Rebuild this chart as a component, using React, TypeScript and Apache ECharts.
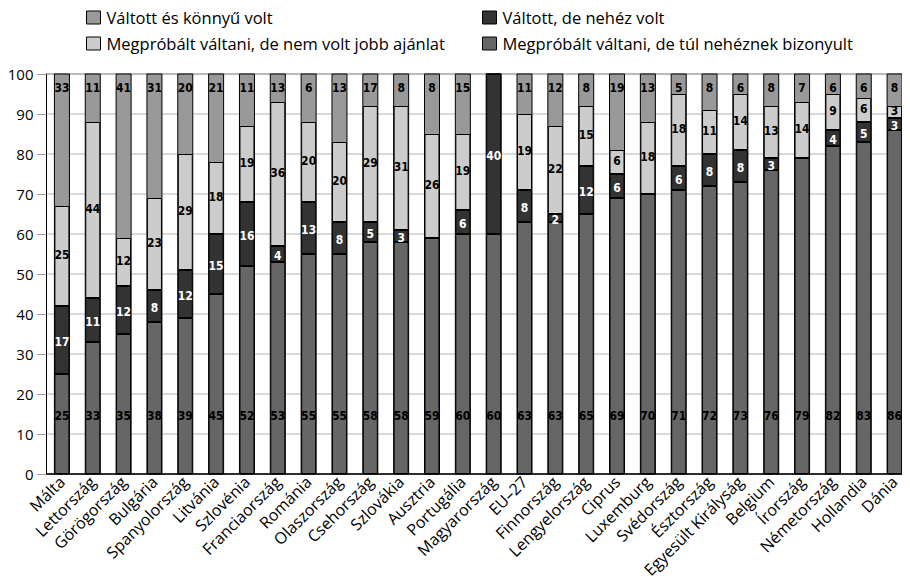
import React, { useEffect, useRef } from "react";
import * as echarts from "echarts";

const categories = [
  "Málta", "Lettország", "Görögország", "Bulgária", "Spanyolország", "Litvánia", "Szlovénia",
  "Franciaország", "Románia", "Olaszország", "Csehország", "Szlovákia", "Ausztria", "Portugália",
  "Magyarország", "EU–27", "Finnország", "Lengyelország", "Ciprus", "Luxemburg", "Svédország",
  "Észtország", "Egyesült Királyság", "Belgium", "Írország", "Németország", "Hollandia", "Dánia",
];

// Megpróbált váltani, de túl nehéznek bizonyult
const tooHard = [25, 33, 35, 38, 39, 45, 52, 53, 55, 55, 58, 58, 59, 60, 60, 63, 63, 65, 69, 70, 71, 72, 73, 76, 79, 82, 83, 86];
// Váltott, de nehéz volt
const switchedHard = [17, 11, 12, 8, 12, 15, 16, 4, 13, 8, 5, 3, 0, 6, 40, 8, 2, 12, 6, 0, 6, 8, 8, 3, 0, 4, 5, 3];
// Megpróbált váltani, de nem volt jobb ajánlat
const noBetterOffer = [25, 44, 12, 23, 29, 18, 19, 36, 20, 20, 29, 31, 26, 19, 0, 19, 22, 15, 6, 18, 18, 11, 14, 13, 14, 9, 6, 3];
// Váltott és könnyű volt
const switchedEasy = [33, 11, 41, 31, 20, 21, 11, 13, 6, 13, 17, 8, 8, 15, 0, 11, 12, 8, 19, 13, 5, 8, 6, 8, 7, 6, 6, 8];

const yTicks = { min: 0, max: 100, interval: 10 };

const NAMES = {
  easy: "Váltott és könnyű volt",
  hard: "Váltott, de nehéz volt",
  noOffer: "Megpróbált váltani, de nem volt jobb ajánlat",
  tooHard: "Megpróbált váltani, de túl nehéznek bizonyult",
};

const COLORS = {
  easy: "#999999",
  hard: "#333333",
  noOffer: "#cccccc",
  tooHard: "#666666",
};

const LABEL_FONT = "'Liberation Sans Narrow', 'Arial Narrow', 'DejaVu Sans Condensed', sans-serif";
const AXIS_FONT = "'Open Sans', 'Noto Sans', sans-serif";

const fmt = (p: any) => (p.value ? String(p.value) : "");

export default function App() {
  const ref = useRef<HTMLDivElement>(null);

  useEffect(() => {
    if (!ref.current) return;
    const chart = echarts.init(ref.current, undefined, { renderer: "svg" });

    const labelBase = {
      show: true,
      fontFamily: LABEL_FONT,
      fontWeight: "bold" as const,
      fontSize: 12,
      lineHeight: 11,
      formatter: fmt,
    };
    const barBase = {
      type: "bar" as const,
      barWidth: 15,
      barGap: "-100%",
      emphasis: { disabled: true },
    };

    const legendItem = (name: string, color: string, left: number, top: number) => ({
      show: true,
      left,
      top,
      padding: 0,
      itemWidth: 14,
      itemHeight: 13,
      itemGap: 0,
      selectedMode: false,
      textStyle: { fontFamily: AXIS_FONT, fontSize: 16.5, color: "#000", padding: [0, 0, 0, 1] },
      data: [{ name, icon: "rect", itemStyle: { color, borderColor: "#000", borderWidth: 1 } }],
    });

    chart.setOption({
      animation: false,
      backgroundColor: "#fff",
      legend: [
        legendItem(NAMES.easy, COLORS.easy, 86, 9),
        legendItem(NAMES.hard, COLORS.hard, 482, 9),
        legendItem(NAMES.noOffer, COLORS.noOffer, 86, 35),
        legendItem(NAMES.tooHard, COLORS.tooHard, 482, 35),
      ],
      grid: {
        left: 46.5,
        right: -4,
        top: 74,
        bottom: 111,
        show: true,
        borderColor: "#000",
        borderWidth: 1,
      },
      xAxis: {
        type: "category",
        data: categories,
        axisLine: { lineStyle: { color: "#000", width: 1.5 } },
        axisTick: { show: false },
        axisLabel: {
          interval: 0,
          rotate: 45,
          fontFamily: AXIS_FONT,
          fontSize: 16,
          color: "#000",
          margin: 5,
        },
      },
      yAxis: [
        {
          type: "value",
          min: yTicks.min,
          max: yTicks.max,
          interval: yTicks.interval,
          axisLine: { show: true, lineStyle: { color: "#000", width: 1 } },
          axisTick: { show: true, length: 9, lineStyle: { color: "#999" } },
          axisLabel: { fontFamily: AXIS_FONT, fontSize: 15, color: "#000", margin: 13 },
          splitLine: { lineStyle: { color: "#cccccc", width: 1.5 } },
        },
        {
          type: "value",
          min: yTicks.min,
          max: yTicks.max,
          inverse: true,
          show: false,
          splitLine: { show: false },
        },
      ],
      series: [
        {
          ...barBase,
          name: NAMES.tooHard,
          stack: "total",
          data: tooHard,
          showBackground: true,
          backgroundStyle: { color: COLORS.easy, borderColor: "#000", borderWidth: 1 },
          itemStyle: { color: COLORS.tooHard, borderColor: "#000", borderWidth: 1 },
          label: { ...labelBase, position: "insideBottom", distance: 53, color: "#000" },
        },
        {
          ...barBase,
          name: NAMES.hard,
          stack: "total",
          data: switchedHard,
          itemStyle: { color: COLORS.hard, borderColor: "#000", borderWidth: 1 },
          label: { ...labelBase, position: "inside", offset: [0, 1.5], color: "#fff" },
        },
        {
          ...barBase,
          name: NAMES.noOffer,
          stack: "total",
          data: noBetterOffer,
          itemStyle: { color: COLORS.noOffer, borderColor: "#000", borderWidth: 1 },
          label: { ...labelBase, position: "inside", offset: [0, -1.5], color: "#000" },
        },
        {
          ...barBase,
          name: NAMES.easy,
          yAxisIndex: 1,
          data: switchedEasy,
          z: 3,
          itemStyle: { color: "rgba(0,0,0,0)", borderWidth: 0 },
          label: { ...labelBase, position: "insideTop", distance: 8, color: "#000" },
        },
      ],
    });

    return () => chart.dispose();
  }, []);

  return <div ref={ref} style={{ width: 910, height: 585, margin: -8 }} />;
}
